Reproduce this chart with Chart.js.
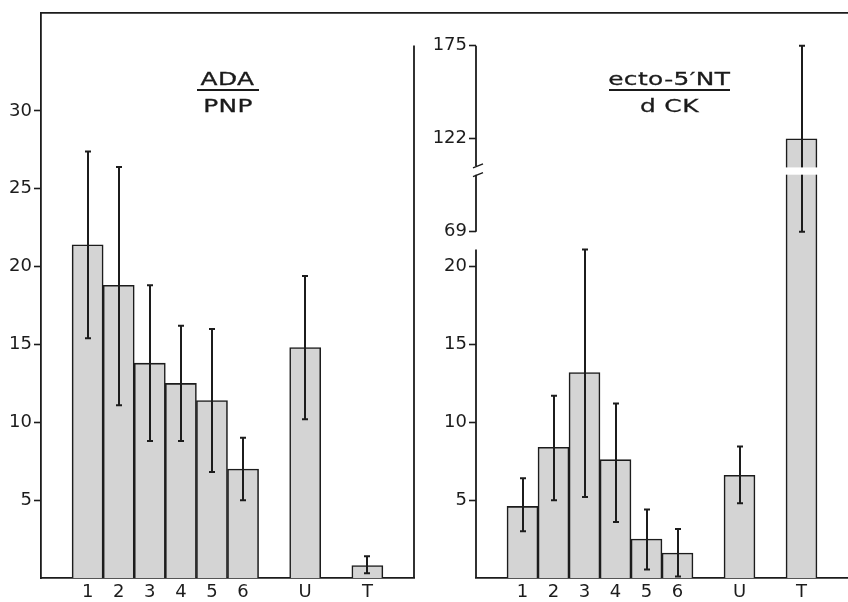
<!DOCTYPE html>
<html>
<head>
<meta charset="utf-8">
<script src="https://cdn.jsdelivr.net/npm/chart.js@4.4.1/dist/chart.umd.min.js"></script>
<style>
  body { margin: 0; background: #fff; }
  #wrap { position: relative; width: 848px; height: 602px; overflow: hidden; background: #fff; }
  canvas { position: absolute; top: 0; }
  #leftChart { left: 0; }
  #rightChart { left: 424px; }
  .frac { position: absolute; top: 69px; font-family: 'DejaVu Sans', sans-serif; font-size: 18px; color: #1a1a1a; text-align: center; }
  .frac .num { border-bottom: 2px solid #1a1a1a; line-height: 20px; }
  .frac .den { line-height: 20px; margin-top: 5px; }
  .frac span { display: inline-block; transform: scaleX(1.38); letter-spacing: 0.3px; -webkit-text-stroke: 0.3px #1a1a1a; }
</style>
</head>
<body>
<div id="wrap">
  <canvas id="leftChart" width="424" height="602"></canvas>
  <canvas id="rightChart" width="424" height="602"></canvas>
  <div class="frac" style="left:197px; width:62px;">
    <div class="num"><span>ADA</span></div>
    <div class="den"><span>PNP</span></div>
  </div>
  <div class="frac" style="left:609px; width:121px;">
    <div class="num"><span>ecto-5′NT</span></div>
    <div class="den"><span>d CK</span></div>
  </div>
</div>
<script>
// slots on the x axis (empty ones are spacing between groups)
const xSlots = ['', '1', '2', '3', '4', '5', '6', '', 'U', '', 'T', ''];
const groups = ['1', '2', '3', '4', '5', '6', 'U', 'T'];

// ADA / PNP
const adaMean = [21.4, 18.8, 13.8, 12.5, 11.4, 7.0, 14.8, 0.8];
const adaLow  = [15.4, 11.1, 8.8, 8.8, 6.8, 5.0, 10.2, 0.3];
const adaHigh = [27.4, 26.4, 18.8, 16.2, 16.0, 9.0, 19.4, 1.4];

// ecto-5'NT / dCK
const ectoMean = [4.6, 8.4, 13.2, 7.6, 2.5, 1.6, 6.6, 122];
const ectoLow  = [3.0, 5.0, 5.2, 3.6, 0.55, 0.1, 4.8, 69];
const ectoHigh = [6.4, 11.7, 21.1, 11.2, 4.4, 3.15, 8.45, 175];

const leftTicks = [5, 10, 15, 20, 25, 30];
const rightTicks = [5, 10, 15, 20, 69, 122, 175];

const INK = '#1c1c1c';
const BAR_FILL = '#d4d4d4';
const Y_MAX = 36.3;

// broken right axis: 0..21 linear, then 69..175 compressed
const LOWER_TOP = 21.1;
const BREAK_FROM = 69;
const BREAK_DISPLAY = 22.24;
const UPPER_RATIO = 0.1127;
const GAP = [101.5, 106.5];

function toDisplay(v) {
    if (v == null) return null;
    return v <= 21.5 ? v : BREAK_DISPLAY + (v - BREAK_FROM) * UPPER_RATIO;
}

function toSlots(values, map) {
    return xSlots.map(s => {
        const i = groups.indexOf(s);
        if (i < 0) return null;
        return map ? map(values[i]) : values[i];
    });
}

function makeErrorBars(low, high) {
    return {
        id: 'errorBars',
        afterDatasetsDraw(chart) {
            const ctx = chart.ctx;
            const y = chart.scales.y;
            const meta = chart.getDatasetMeta(0);
            ctx.save();
            ctx.strokeStyle = INK;
            ctx.lineWidth = 2;
            meta.data.forEach((bar, i) => {
                if (low[i] == null) return;
                const x = Math.round(bar.x);
                const top = y.getPixelForValue(high[i]);
                const bot = y.getPixelForValue(low[i]);
                ctx.beginPath();
                ctx.moveTo(x, top); ctx.lineTo(x, bot);
                ctx.moveTo(x - 3, top); ctx.lineTo(x + 3, top);
                ctx.moveTo(x - 3, bot); ctx.lineTo(x + 3, bot);
                ctx.stroke();
            });
            ctx.restore();
        }
    };
}

const leftFrame = {
    id: 'leftFrame',
    afterDraw(chart) {
        const ctx = chart.ctx;
        const a = chart.chartArea;
        const y = chart.scales.y;
        ctx.save();
        ctx.strokeStyle = INK;
        ctx.lineWidth = 1.8;
        ctx.beginPath();
        ctx.moveTo(a.left - 0.9, a.top);
        ctx.lineTo(chart.width, a.top);
        ctx.moveTo(a.right, y.getPixelForValue(34.2));
        ctx.lineTo(a.right, a.bottom);
        ctx.stroke();
        ctx.restore();
    }
};

const rightFrame = {
    id: 'rightFrame',
    afterDraw(chart) {
        const ctx = chart.ctx;
        const a = chart.chartArea;
        const y = chart.scales.y;
        const x = a.left;
        const py = v => y.getPixelForValue(toDisplay(v));
        ctx.save();

        // white gap through the T bar
        const meta = chart.getDatasetMeta(0);
        const tBar = meta.data[xSlots.indexOf('T')];
        const gTop = py(GAP[1]) + 1.5;
        const gBot = py(GAP[0]);
        ctx.fillStyle = '#fff';
        ctx.fillRect(tBar.x - tBar.width / 2 - 2, gTop, tBar.width + 4, gBot - gTop);

        ctx.strokeStyle = INK;
        ctx.lineWidth = 1.8;
        ctx.beginPath();
        // top frame
        ctx.moveTo(0, a.top);
        ctx.lineTo(chart.width, a.top);
        // lower axis segment
        ctx.moveTo(x, a.bottom);
        ctx.lineTo(x, y.getPixelForValue(LOWER_TOP));
        // upper axis segment with break
        ctx.moveTo(x, py(BREAK_FROM));
        ctx.lineTo(x, py(GAP[0]));
        ctx.moveTo(x, py(GAP[1]));
        ctx.lineTo(x, py(175));
        ctx.stroke();

        ctx.lineWidth = 1.4;
        ctx.beginPath();
        ctx.moveTo(x - 3, py(GAP[0]) + 2);
        ctx.lineTo(x + 7, py(GAP[0]) - 2);
        ctx.moveTo(x - 3, py(GAP[1]) + 2);
        ctx.lineTo(x + 7, py(GAP[1]) - 2);
        ctx.stroke();
        ctx.restore();
    }
};

const tickFont = { family: "'DejaVu Sans', sans-serif", size: 18 };

function baseOptions(yWidth, padRight) {
    return {
        responsive: false,
        animation: false,
        events: [],
        layout: { padding: { top: 9, right: padRight, left: 0, bottom: 0 } },
        plugins: { legend: { display: false }, tooltip: { enabled: false } },
        scales: {
            x: {
                type: 'category',
                grid: { display: false, drawTicks: false, tickLength: 0 },
                border: { display: true, color: INK, width: 1.8 },
                ticks: { color: INK, font: tickFont, padding: 4, autoSkip: false, maxRotation: 0 },
                afterFit: s => { s.height = 24; }
            },
            y: {
                min: 0,
                max: Y_MAX,
                grid: { drawOnChartArea: false, drawTicks: true, tickLength: 7, tickColor: INK, tickWidth: 1.6 },
                ticks: { color: INK, font: tickFont, padding: 2 },
                afterFit: s => { s.width = yWidth; }
            }
        }
    };
}

const barStyle = {
    backgroundColor: BAR_FILL,
    borderColor: INK,
    borderWidth: 1.6,
    barPercentage: 1,
    categoryPercentage: 1
};

// left panel
const leftOpts = baseOptions(41, 10);
leftOpts.scales.y.border = { display: true, color: INK, width: 1.8 };
leftOpts.scales.y.afterBuildTicks = s => { s.ticks = leftTicks.map(v => ({ value: v })); };

new Chart(document.getElementById('leftChart'), {
    type: 'bar',
    data: {
        labels: xSlots,
        datasets: [Object.assign({ data: toSlots(adaMean) }, barStyle)]
    },
    options: leftOpts,
    plugins: [makeErrorBars(toSlots(adaLow), toSlots(adaHigh)), leftFrame]
});

// right panel (broken axis)
const rightOpts = baseOptions(52, 0);
rightOpts.scales.y.border = { display: false };
rightOpts.scales.y.afterBuildTicks = s => { s.ticks = rightTicks.map(v => ({ value: toDisplay(v) })); };
rightOpts.scales.y.ticks.callback = (val, idx) => String(rightTicks[idx]);

new Chart(document.getElementById('rightChart'), {
    type: 'bar',
    data: {
        labels: xSlots,
        datasets: [Object.assign({ data: toSlots(ectoMean, toDisplay) }, barStyle)]
    },
    options: rightOpts,
    plugins: [makeErrorBars(toSlots(ectoLow, toDisplay), toSlots(ectoHigh, toDisplay)), rightFrame]
});
</script>
</body>
</html>
